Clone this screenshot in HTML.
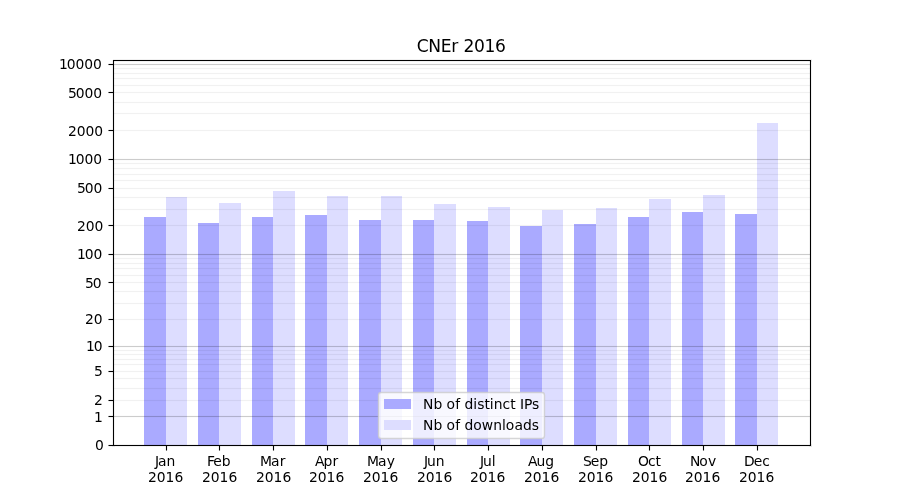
<!DOCTYPE html>
<html lang="en"><head><meta charset="utf-8"><title>CNEr 2016</title>
<style>html,body{margin:0;padding:0;background:#fff;overflow:hidden}svg{display:block}text{font-family:"DejaVu Sans","Liberation Sans",sans-serif;fill:#000}.t{font-size:13.889px}.ti{font-size:16.667px}</style></head><body>
<svg width="900" height="500" viewBox="0 0 900 500">
<rect width="900" height="500" fill="#fff"/>
<g shape-rendering="crispEdges">
<rect x="144" y="217" width="22" height="228" fill="#aaaaff"/>
<rect x="166" y="197" width="21" height="248" fill="#ddddff"/>
<rect x="198" y="223" width="21" height="222" fill="#aaaaff"/>
<rect x="219" y="203" width="22" height="242" fill="#ddddff"/>
<rect x="252" y="217" width="21" height="228" fill="#aaaaff"/>
<rect x="273" y="191" width="22" height="254" fill="#ddddff"/>
<rect x="305" y="215" width="22" height="230" fill="#aaaaff"/>
<rect x="327" y="196" width="21" height="249" fill="#ddddff"/>
<rect x="359" y="220" width="22" height="225" fill="#aaaaff"/>
<rect x="381" y="196" width="21" height="249" fill="#ddddff"/>
<rect x="413" y="220" width="21" height="225" fill="#aaaaff"/>
<rect x="434" y="204" width="22" height="241" fill="#ddddff"/>
<rect x="467" y="221" width="21" height="224" fill="#aaaaff"/>
<rect x="488" y="207" width="22" height="238" fill="#ddddff"/>
<rect x="520" y="226" width="22" height="219" fill="#aaaaff"/>
<rect x="542" y="210" width="21" height="235" fill="#ddddff"/>
<rect x="574" y="224" width="22" height="221" fill="#aaaaff"/>
<rect x="596" y="208" width="21" height="237" fill="#ddddff"/>
<rect x="628" y="217" width="21" height="228" fill="#aaaaff"/>
<rect x="649" y="199" width="22" height="246" fill="#ddddff"/>
<rect x="682" y="212" width="21" height="233" fill="#aaaaff"/>
<rect x="703" y="195" width="22" height="250" fill="#ddddff"/>
<rect x="735" y="214" width="22" height="231" fill="#aaaaff"/>
<rect x="757" y="123" width="21" height="322" fill="#ddddff"/>
<rect x="113" y="416" width="698" height="1" fill="#000" fill-opacity="0.2"/>
<rect x="113" y="415" width="698" height="1" fill="#000" fill-opacity="0.011"/><rect x="113" y="417" width="698" height="1" fill="#000" fill-opacity="0.011"/>
<rect x="113" y="400" width="698" height="1" fill="#000" fill-opacity="0.055"/>
<rect x="113" y="399" width="698" height="1" fill="#000" fill-opacity="0.004"/><rect x="113" y="401" width="698" height="1" fill="#000" fill-opacity="0.004"/>
<rect x="113" y="388" width="698" height="1" fill="#000" fill-opacity="0.055"/>
<rect x="113" y="387" width="698" height="1" fill="#000" fill-opacity="0.004"/><rect x="113" y="389" width="698" height="1" fill="#000" fill-opacity="0.004"/>
<rect x="113" y="378" width="698" height="1" fill="#000" fill-opacity="0.055"/>
<rect x="113" y="377" width="698" height="1" fill="#000" fill-opacity="0.004"/><rect x="113" y="379" width="698" height="1" fill="#000" fill-opacity="0.004"/>
<rect x="113" y="371" width="698" height="1" fill="#000" fill-opacity="0.055"/>
<rect x="113" y="370" width="698" height="1" fill="#000" fill-opacity="0.004"/><rect x="113" y="372" width="698" height="1" fill="#000" fill-opacity="0.004"/>
<rect x="113" y="364" width="698" height="1" fill="#000" fill-opacity="0.055"/>
<rect x="113" y="363" width="698" height="1" fill="#000" fill-opacity="0.004"/><rect x="113" y="365" width="698" height="1" fill="#000" fill-opacity="0.004"/>
<rect x="113" y="359" width="698" height="1" fill="#000" fill-opacity="0.055"/>
<rect x="113" y="358" width="698" height="1" fill="#000" fill-opacity="0.004"/><rect x="113" y="360" width="698" height="1" fill="#000" fill-opacity="0.004"/>
<rect x="113" y="354" width="698" height="1" fill="#000" fill-opacity="0.055"/>
<rect x="113" y="353" width="698" height="1" fill="#000" fill-opacity="0.004"/><rect x="113" y="355" width="698" height="1" fill="#000" fill-opacity="0.004"/>
<rect x="113" y="350" width="698" height="1" fill="#000" fill-opacity="0.055"/>
<rect x="113" y="349" width="698" height="1" fill="#000" fill-opacity="0.004"/><rect x="113" y="351" width="698" height="1" fill="#000" fill-opacity="0.004"/>
<rect x="113" y="346" width="698" height="1" fill="#000" fill-opacity="0.2"/>
<rect x="113" y="345" width="698" height="1" fill="#000" fill-opacity="0.011"/><rect x="113" y="347" width="698" height="1" fill="#000" fill-opacity="0.011"/>
<rect x="113" y="319" width="698" height="1" fill="#000" fill-opacity="0.055"/>
<rect x="113" y="318" width="698" height="1" fill="#000" fill-opacity="0.004"/><rect x="113" y="320" width="698" height="1" fill="#000" fill-opacity="0.004"/>
<rect x="113" y="303" width="698" height="1" fill="#000" fill-opacity="0.055"/>
<rect x="113" y="302" width="698" height="1" fill="#000" fill-opacity="0.004"/><rect x="113" y="304" width="698" height="1" fill="#000" fill-opacity="0.004"/>
<rect x="113" y="291" width="698" height="1" fill="#000" fill-opacity="0.055"/>
<rect x="113" y="290" width="698" height="1" fill="#000" fill-opacity="0.004"/><rect x="113" y="292" width="698" height="1" fill="#000" fill-opacity="0.004"/>
<rect x="113" y="282" width="698" height="1" fill="#000" fill-opacity="0.055"/>
<rect x="113" y="281" width="698" height="1" fill="#000" fill-opacity="0.004"/><rect x="113" y="283" width="698" height="1" fill="#000" fill-opacity="0.004"/>
<rect x="113" y="275" width="698" height="1" fill="#000" fill-opacity="0.055"/>
<rect x="113" y="274" width="698" height="1" fill="#000" fill-opacity="0.004"/><rect x="113" y="276" width="698" height="1" fill="#000" fill-opacity="0.004"/>
<rect x="113" y="268" width="698" height="1" fill="#000" fill-opacity="0.055"/>
<rect x="113" y="267" width="698" height="1" fill="#000" fill-opacity="0.004"/><rect x="113" y="269" width="698" height="1" fill="#000" fill-opacity="0.004"/>
<rect x="113" y="263" width="698" height="1" fill="#000" fill-opacity="0.055"/>
<rect x="113" y="262" width="698" height="1" fill="#000" fill-opacity="0.004"/><rect x="113" y="264" width="698" height="1" fill="#000" fill-opacity="0.004"/>
<rect x="113" y="258" width="698" height="1" fill="#000" fill-opacity="0.055"/>
<rect x="113" y="257" width="698" height="1" fill="#000" fill-opacity="0.004"/><rect x="113" y="259" width="698" height="1" fill="#000" fill-opacity="0.004"/>
<rect x="113" y="254" width="698" height="1" fill="#000" fill-opacity="0.2"/>
<rect x="113" y="253" width="698" height="1" fill="#000" fill-opacity="0.011"/><rect x="113" y="255" width="698" height="1" fill="#000" fill-opacity="0.011"/>
<rect x="113" y="225" width="698" height="1" fill="#000" fill-opacity="0.055"/>
<rect x="113" y="224" width="698" height="1" fill="#000" fill-opacity="0.004"/><rect x="113" y="226" width="698" height="1" fill="#000" fill-opacity="0.004"/>
<rect x="113" y="209" width="698" height="1" fill="#000" fill-opacity="0.055"/>
<rect x="113" y="208" width="698" height="1" fill="#000" fill-opacity="0.004"/><rect x="113" y="210" width="698" height="1" fill="#000" fill-opacity="0.004"/>
<rect x="113" y="197" width="698" height="1" fill="#000" fill-opacity="0.055"/>
<rect x="113" y="196" width="698" height="1" fill="#000" fill-opacity="0.004"/><rect x="113" y="198" width="698" height="1" fill="#000" fill-opacity="0.004"/>
<rect x="113" y="188" width="698" height="1" fill="#000" fill-opacity="0.055"/>
<rect x="113" y="187" width="698" height="1" fill="#000" fill-opacity="0.004"/><rect x="113" y="189" width="698" height="1" fill="#000" fill-opacity="0.004"/>
<rect x="113" y="180" width="698" height="1" fill="#000" fill-opacity="0.055"/>
<rect x="113" y="179" width="698" height="1" fill="#000" fill-opacity="0.004"/><rect x="113" y="181" width="698" height="1" fill="#000" fill-opacity="0.004"/>
<rect x="113" y="174" width="698" height="1" fill="#000" fill-opacity="0.055"/>
<rect x="113" y="173" width="698" height="1" fill="#000" fill-opacity="0.004"/><rect x="113" y="175" width="698" height="1" fill="#000" fill-opacity="0.004"/>
<rect x="113" y="168" width="698" height="1" fill="#000" fill-opacity="0.055"/>
<rect x="113" y="167" width="698" height="1" fill="#000" fill-opacity="0.004"/><rect x="113" y="169" width="698" height="1" fill="#000" fill-opacity="0.004"/>
<rect x="113" y="163" width="698" height="1" fill="#000" fill-opacity="0.055"/>
<rect x="113" y="162" width="698" height="1" fill="#000" fill-opacity="0.004"/><rect x="113" y="164" width="698" height="1" fill="#000" fill-opacity="0.004"/>
<rect x="113" y="159" width="698" height="1" fill="#000" fill-opacity="0.2"/>
<rect x="113" y="158" width="698" height="1" fill="#000" fill-opacity="0.011"/><rect x="113" y="160" width="698" height="1" fill="#000" fill-opacity="0.011"/>
<rect x="113" y="130" width="698" height="1" fill="#000" fill-opacity="0.055"/>
<rect x="113" y="129" width="698" height="1" fill="#000" fill-opacity="0.004"/><rect x="113" y="131" width="698" height="1" fill="#000" fill-opacity="0.004"/>
<rect x="113" y="113" width="698" height="1" fill="#000" fill-opacity="0.055"/>
<rect x="113" y="112" width="698" height="1" fill="#000" fill-opacity="0.004"/><rect x="113" y="114" width="698" height="1" fill="#000" fill-opacity="0.004"/>
<rect x="113" y="102" width="698" height="1" fill="#000" fill-opacity="0.055"/>
<rect x="113" y="101" width="698" height="1" fill="#000" fill-opacity="0.004"/><rect x="113" y="103" width="698" height="1" fill="#000" fill-opacity="0.004"/>
<rect x="113" y="92" width="698" height="1" fill="#000" fill-opacity="0.055"/>
<rect x="113" y="91" width="698" height="1" fill="#000" fill-opacity="0.004"/><rect x="113" y="93" width="698" height="1" fill="#000" fill-opacity="0.004"/>
<rect x="113" y="85" width="698" height="1" fill="#000" fill-opacity="0.055"/>
<rect x="113" y="84" width="698" height="1" fill="#000" fill-opacity="0.004"/><rect x="113" y="86" width="698" height="1" fill="#000" fill-opacity="0.004"/>
<rect x="113" y="78" width="698" height="1" fill="#000" fill-opacity="0.055"/>
<rect x="113" y="77" width="698" height="1" fill="#000" fill-opacity="0.004"/><rect x="113" y="79" width="698" height="1" fill="#000" fill-opacity="0.004"/>
<rect x="113" y="73" width="698" height="1" fill="#000" fill-opacity="0.055"/>
<rect x="113" y="72" width="698" height="1" fill="#000" fill-opacity="0.004"/><rect x="113" y="74" width="698" height="1" fill="#000" fill-opacity="0.004"/>
<rect x="113" y="68" width="698" height="1" fill="#000" fill-opacity="0.055"/>
<rect x="113" y="67" width="698" height="1" fill="#000" fill-opacity="0.004"/><rect x="113" y="69" width="698" height="1" fill="#000" fill-opacity="0.004"/>
<rect x="113" y="64" width="698" height="1" fill="#000" fill-opacity="0.2"/>
<rect x="113" y="63" width="698" height="1" fill="#000" fill-opacity="0.011"/><rect x="113" y="65" width="698" height="1" fill="#000" fill-opacity="0.011"/>
<rect x="109" y="445" width="4" height="1" fill="#000"/><rect x="108" y="445" width="1" height="1" fill="#7f7f7f"/>
<rect x="109" y="444" width="4" height="3" fill="#000" fill-opacity="0.055"/><rect x="108" y="444" width="1" height="3" fill="#000" fill-opacity="0.027"/>
<rect x="109" y="416" width="4" height="1" fill="#000"/><rect x="108" y="416" width="1" height="1" fill="#7f7f7f"/>
<rect x="109" y="415" width="4" height="3" fill="#000" fill-opacity="0.055"/><rect x="108" y="415" width="1" height="3" fill="#000" fill-opacity="0.027"/>
<rect x="109" y="400" width="4" height="1" fill="#000"/><rect x="108" y="400" width="1" height="1" fill="#7f7f7f"/>
<rect x="109" y="399" width="4" height="3" fill="#000" fill-opacity="0.055"/><rect x="108" y="399" width="1" height="3" fill="#000" fill-opacity="0.027"/>
<rect x="109" y="371" width="4" height="1" fill="#000"/><rect x="108" y="371" width="1" height="1" fill="#7f7f7f"/>
<rect x="109" y="370" width="4" height="3" fill="#000" fill-opacity="0.055"/><rect x="108" y="370" width="1" height="3" fill="#000" fill-opacity="0.027"/>
<rect x="109" y="346" width="4" height="1" fill="#000"/><rect x="108" y="346" width="1" height="1" fill="#7f7f7f"/>
<rect x="109" y="345" width="4" height="3" fill="#000" fill-opacity="0.055"/><rect x="108" y="345" width="1" height="3" fill="#000" fill-opacity="0.027"/>
<rect x="109" y="319" width="4" height="1" fill="#000"/><rect x="108" y="319" width="1" height="1" fill="#7f7f7f"/>
<rect x="109" y="318" width="4" height="3" fill="#000" fill-opacity="0.055"/><rect x="108" y="318" width="1" height="3" fill="#000" fill-opacity="0.027"/>
<rect x="109" y="282" width="4" height="1" fill="#000"/><rect x="108" y="282" width="1" height="1" fill="#7f7f7f"/>
<rect x="109" y="281" width="4" height="3" fill="#000" fill-opacity="0.055"/><rect x="108" y="281" width="1" height="3" fill="#000" fill-opacity="0.027"/>
<rect x="109" y="254" width="4" height="1" fill="#000"/><rect x="108" y="254" width="1" height="1" fill="#7f7f7f"/>
<rect x="109" y="253" width="4" height="3" fill="#000" fill-opacity="0.055"/><rect x="108" y="253" width="1" height="3" fill="#000" fill-opacity="0.027"/>
<rect x="109" y="225" width="4" height="1" fill="#000"/><rect x="108" y="225" width="1" height="1" fill="#7f7f7f"/>
<rect x="109" y="224" width="4" height="3" fill="#000" fill-opacity="0.055"/><rect x="108" y="224" width="1" height="3" fill="#000" fill-opacity="0.027"/>
<rect x="109" y="188" width="4" height="1" fill="#000"/><rect x="108" y="188" width="1" height="1" fill="#7f7f7f"/>
<rect x="109" y="187" width="4" height="3" fill="#000" fill-opacity="0.055"/><rect x="108" y="187" width="1" height="3" fill="#000" fill-opacity="0.027"/>
<rect x="109" y="159" width="4" height="1" fill="#000"/><rect x="108" y="159" width="1" height="1" fill="#7f7f7f"/>
<rect x="109" y="158" width="4" height="3" fill="#000" fill-opacity="0.055"/><rect x="108" y="158" width="1" height="3" fill="#000" fill-opacity="0.027"/>
<rect x="109" y="130" width="4" height="1" fill="#000"/><rect x="108" y="130" width="1" height="1" fill="#7f7f7f"/>
<rect x="109" y="129" width="4" height="3" fill="#000" fill-opacity="0.055"/><rect x="108" y="129" width="1" height="3" fill="#000" fill-opacity="0.027"/>
<rect x="109" y="92" width="4" height="1" fill="#000"/><rect x="108" y="92" width="1" height="1" fill="#7f7f7f"/>
<rect x="109" y="91" width="4" height="3" fill="#000" fill-opacity="0.055"/><rect x="108" y="91" width="1" height="3" fill="#000" fill-opacity="0.027"/>
<rect x="109" y="64" width="4" height="1" fill="#000"/><rect x="108" y="64" width="1" height="1" fill="#7f7f7f"/>
<rect x="109" y="63" width="4" height="3" fill="#000" fill-opacity="0.055"/><rect x="108" y="63" width="1" height="3" fill="#000" fill-opacity="0.027"/>
<rect x="166" y="446" width="1" height="4" fill="#000"/><rect x="166" y="450" width="1" height="1" fill="#7f7f7f"/>
<rect x="165" y="446" width="3" height="4" fill="#000" fill-opacity="0.055"/><rect x="165" y="450" width="3" height="1" fill="#000" fill-opacity="0.027"/>
<rect x="219" y="446" width="1" height="4" fill="#000"/><rect x="219" y="450" width="1" height="1" fill="#7f7f7f"/>
<rect x="218" y="446" width="3" height="4" fill="#000" fill-opacity="0.055"/><rect x="218" y="450" width="3" height="1" fill="#000" fill-opacity="0.027"/>
<rect x="273" y="446" width="1" height="4" fill="#000"/><rect x="273" y="450" width="1" height="1" fill="#7f7f7f"/>
<rect x="272" y="446" width="3" height="4" fill="#000" fill-opacity="0.055"/><rect x="272" y="450" width="3" height="1" fill="#000" fill-opacity="0.027"/>
<rect x="327" y="446" width="1" height="4" fill="#000"/><rect x="327" y="450" width="1" height="1" fill="#7f7f7f"/>
<rect x="326" y="446" width="3" height="4" fill="#000" fill-opacity="0.055"/><rect x="326" y="450" width="3" height="1" fill="#000" fill-opacity="0.027"/>
<rect x="381" y="446" width="1" height="4" fill="#000"/><rect x="381" y="450" width="1" height="1" fill="#7f7f7f"/>
<rect x="380" y="446" width="3" height="4" fill="#000" fill-opacity="0.055"/><rect x="380" y="450" width="3" height="1" fill="#000" fill-opacity="0.027"/>
<rect x="434" y="446" width="1" height="4" fill="#000"/><rect x="434" y="450" width="1" height="1" fill="#7f7f7f"/>
<rect x="433" y="446" width="3" height="4" fill="#000" fill-opacity="0.055"/><rect x="433" y="450" width="3" height="1" fill="#000" fill-opacity="0.027"/>
<rect x="488" y="446" width="1" height="4" fill="#000"/><rect x="488" y="450" width="1" height="1" fill="#7f7f7f"/>
<rect x="487" y="446" width="3" height="4" fill="#000" fill-opacity="0.055"/><rect x="487" y="450" width="3" height="1" fill="#000" fill-opacity="0.027"/>
<rect x="542" y="446" width="1" height="4" fill="#000"/><rect x="542" y="450" width="1" height="1" fill="#7f7f7f"/>
<rect x="541" y="446" width="3" height="4" fill="#000" fill-opacity="0.055"/><rect x="541" y="450" width="3" height="1" fill="#000" fill-opacity="0.027"/>
<rect x="596" y="446" width="1" height="4" fill="#000"/><rect x="596" y="450" width="1" height="1" fill="#7f7f7f"/>
<rect x="595" y="446" width="3" height="4" fill="#000" fill-opacity="0.055"/><rect x="595" y="450" width="3" height="1" fill="#000" fill-opacity="0.027"/>
<rect x="649" y="446" width="1" height="4" fill="#000"/><rect x="649" y="450" width="1" height="1" fill="#7f7f7f"/>
<rect x="648" y="446" width="3" height="4" fill="#000" fill-opacity="0.055"/><rect x="648" y="450" width="3" height="1" fill="#000" fill-opacity="0.027"/>
<rect x="703" y="446" width="1" height="4" fill="#000"/><rect x="703" y="450" width="1" height="1" fill="#7f7f7f"/>
<rect x="702" y="446" width="3" height="4" fill="#000" fill-opacity="0.055"/><rect x="702" y="450" width="3" height="1" fill="#000" fill-opacity="0.027"/>
<rect x="757" y="446" width="1" height="4" fill="#000"/><rect x="757" y="450" width="1" height="1" fill="#7f7f7f"/>
<rect x="756" y="446" width="3" height="4" fill="#000" fill-opacity="0.055"/><rect x="756" y="450" width="3" height="1" fill="#000" fill-opacity="0.027"/>
<rect x="112" y="59.5" width="3" height="387" fill="#000" fill-opacity="0.055"/>
<rect x="809" y="59.5" width="3" height="387" fill="#000" fill-opacity="0.055"/>
<rect x="112.5" y="59" width="699" height="3" fill="#000" fill-opacity="0.055"/>
<rect x="112.5" y="444" width="699" height="3" fill="#000" fill-opacity="0.055"/>
<rect x="113" y="60" width="1" height="386" fill="#000"/>
<rect x="810" y="60" width="1" height="386" fill="#000"/>
<rect x="113" y="60" width="698" height="1" fill="#000"/>
<rect x="113" y="445" width="698" height="1" fill="#000"/>
</g>
<text class="t" x="95" y="450">0</text>
<text class="t" x="94" y="422">1</text>
<text class="t" x="94" y="405">2</text>
<text class="t" x="94" y="376">5</text>
<text class="t" x="86 93.75" y="351">10</text>
<text class="t" x="85 93.75" y="324">20</text>
<text class="t" x="85 92.75" y="288">50</text>
<text class="t" x="77 84.75 93.5" y="259">100</text>
<text class="t" x="77 85.75 94.5" y="231">200</text>
<text class="t" x="77 84.75 93.5" y="193">500</text>
<text class="t" x="68 75.75 84.5 93.25" y="164">1000</text>
<text class="t" x="68 76.75 85.5 94.25" y="136">2000</text>
<text class="t" x="68 75.75 84.5 93.25" y="98">5000</text>
<text class="t" x="59 66.75 75.5 84.25 93" y="69">10000</text>
<text class="t" x="155 158 166.5" y="466">Jan</text>
<text class="t" x="148 156.75 165.5 174.5" y="482">2016</text>
<text class="t" x="207 213.25 221.75" y="466">Feb</text>
<text class="t" x="202 210.75 219.5 228.5" y="482">2016</text>
<text class="t" x="260 271 279.75" y="466">Mar</text>
<text class="t" x="256 264.75 273.5 282.5" y="482">2016</text>
<text class="t" x="315 323.5 332.5" y="466">Apr</text>
<text class="t" x="309 317.75 326.5 335.5" y="482">2016</text>
<text class="t" x="367 378 386.75" y="466">May</text>
<text class="t" x="363 371.75 380.5 389.5" y="482">2016</text>
<text class="t" x="424 427 435.75" y="466">Jun</text>
<text class="t" x="417 425.75 434.5 443.5" y="482">2016</text>
<text class="t" x="480 483 491.75" y="466">Jul</text>
<text class="t" x="470 478.75 487.5 496.5" y="482">2016</text>
<text class="t" x="528 536.5 545.25" y="466">Aug</text>
<text class="t" x="524 532.75 541.5 550.5" y="482">2016</text>
<text class="t" x="583 590.75 599.25" y="466">Sep</text>
<text class="t" x="578 586.75 595.5 604.5" y="482">2016</text>
<text class="t" x="638 648 655.5" y="466">Oct</text>
<text class="t" x="632 640.75 649.5 658.5" y="482">2016</text>
<text class="t" x="690 699.25 708" y="466">Nov</text>
<text class="t" x="685 693.75 702.5 711.5" y="482">2016</text>
<text class="t" x="744 753.75 762.25" y="466">Dec</text>
<text class="t" x="739 747.75 756.5 765.5" y="482">2016</text>
<text class="ti" x="416.75 428.25 440.75 451.25 458.25 463.5 474 484.5 495" y="52" style="font-size:17.1px">CNEr 2016</text>
<rect x="378.5" y="392.5" width="166" height="46" rx="2.78" ry="2.78" fill="#fff" stroke="#ccc" stroke-width="1.389" fill-opacity="0.8" stroke-opacity="0.8"/>
<rect x="384" y="399" width="27" height="10" fill="#aaaaff" shape-rendering="crispEdges"/>
<rect x="384" y="420" width="27" height="10" fill="#ddddff" shape-rendering="crispEdges"/>
<text class="t" x="423 433.5 442.5 446.5 455.25 460.25 464.5 473.25 477.25 484.5 489.75 493.75 502.5 510.25 515.75 520 524 532" y="409">Nb of distinct IPs</text>
<text class="t" x="423 433.5 442.5 446.5 455.25 460.25 464.5 473.25 481.75 493.25 502 505.75 514.5 523 531.75" y="430">Nb of downloads</text>
</svg></body></html>
